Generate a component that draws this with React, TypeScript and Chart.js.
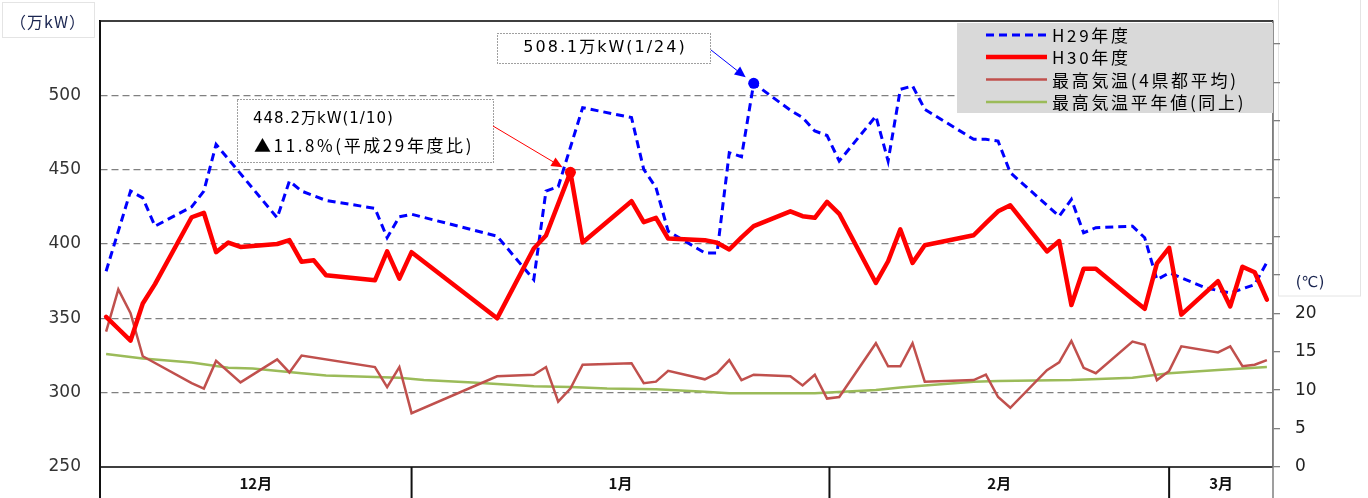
import React, { useEffect, useRef } from 'react';
import { Chart, registerables } from 'chart.js';

Chart.register(...registerables);

// Day index 0 = 12/3 (one point per calendar day on the axis)
const axisMinDay = -0.5;
const axisMaxDay = 95.5;

// H30年度 (万kW)
const h30Days = [0, 1, 2, 3, 4, 7, 8, 9, 10, 11, 14, 15, 16, 17, 18, 22, 23, 24, 25, 32, 35, 36, 37, 38, 39, 43, 44, 45, 46, 49, 50, 51, 52, 53, 56, 57, 58, 59, 60, 63, 64, 65, 66, 67, 71, 72, 73, 74, 77, 78, 79, 80, 81, 84, 85, 86, 87, 88, 91, 92, 93, 94, 95];
const h30Values = [351, 343, 335, 360, 373, 418, 421, 394.5, 401, 398, 400, 402.6, 388, 389, 379, 375.6, 395, 376.7, 394.5, 350, 397, 405.7, 427, 448.2, 401, 428.8, 414.7, 417.6, 403.7, 402.6, 400.8, 396.3, 404.4, 412, 422, 418.7, 417.6, 428.4, 420.3, 373.8, 388.4, 409.8, 387.3, 399.2, 405.9, 414, 422, 426, 395, 402, 359, 383.3, 383.3, 363, 356.4, 387, 397.4, 352.5, 375, 358, 384.7, 381, 362.6];

// H29年度 (万kW)
const h29Days = [0, 2, 3, 4, 7, 8, 9, 14, 15, 16, 18, 22, 23, 24, 25, 32, 35, 36, 37, 39, 43, 44, 45, 46, 49, 50, 51, 52, 53, 56, 57, 58, 59, 60, 63, 64, 65, 66, 67, 71, 72, 73, 74, 78, 79, 80, 81, 84, 85, 86, 87, 90, 92, 94, 95];
const h29Values = [381.7, 435.6, 431, 412, 425, 435.6, 467, 417.6, 442.3, 435.6, 429.3, 424, 404.2, 418.3, 420, 405.3, 376, 435.6, 438.5, 491.7, 485, 450.2, 438, 408.6, 394, 394, 461.4, 458.7, 508.1, 490, 485, 476, 473, 455.8, 486, 455.8, 504, 506.3, 490.6, 470.4, 470.4, 469.2, 448, 418.7, 430, 407.5, 411, 412, 404.2, 376, 380.6, 370.5, 367, 372.7, 387.7];

// 最高気温(4県都平均) (℃)
const tempDays = [0, 1, 2, 3, 7, 8, 9, 11, 14, 15, 16, 22, 23, 24, 25, 32, 35, 36, 37, 38, 39, 43, 44, 45, 46, 49, 50, 51, 52, 53, 56, 57, 58, 59, 60, 63, 64, 65, 66, 67, 71, 72, 73, 74, 77, 78, 79, 80, 81, 84, 85, 86, 87, 88, 91, 92, 93, 94, 95];
const tempValues = [17.6, 23.1, 20, 14.4, 10.9, 10.2, 13.8, 11, 14, 12.3, 14.5, 13, 10.4, 13, 7.0, 11.8, 12.0, 13, 8.5, 10.2, 13.3, 13.5, 10.9, 11.1, 12.5, 11.4, 12.2, 13.9, 11.3, 12.0, 11.8, 10.6, 12.0, 8.9, 9.1, 16.1, 13.1, 13.1, 16.1, 11.1, 11.3, 12.0, 9.1, 7.7, 12.6, 13.6, 16.4, 12.9, 12.2, 16.3, 15.9, 11.3, 12.5, 15.7, 14.9, 15.7, 13.1, 13.3, 13.9];

// 最高気温平年値(同上) (℃)
const normalDays = [0, 3, 7, 10, 12, 16, 18, 22, 24, 26, 30, 35, 38, 41, 45, 49, 51, 58, 63, 65, 67, 71, 73, 79, 84, 87, 91, 95];
const normalValues = [14.7, 14.1, 13.6, 12.9, 12.8, 12.2, 11.9, 11.7, 11.6, 11.3, 11.0, 10.5, 10.4, 10.2, 10.1, 9.8, 9.6, 9.6, 10.0, 10.35, 10.6, 11.1, 11.2, 11.3, 11.6, 12.2, 12.6, 13.0];

// Month table under the chart
const monthLabels = ['12月', '1月', '2月', '3月'];
const monthEdges = [-0.5, 25, 59.2, 87, 95.5];

// Axis ticks
const leftTicks = [250, 300, 350, 400, 450, 500];
const leftMax = 550;
const rightLabelMax = 20;

const seriesLabels = ['H29年度', 'H30年度', '最高気温(4県都平均)', '最高気温平年値(同上)'];

const FONT = '"DejaVu Sans", "Noto Sans CJK JP", sans-serif';
const CJK = '"Noto Sans CJK JP", "DejaVu Sans", sans-serif';

const W = 1368;
const H = 498;

function pts(days: number[], vals: number[]) {
  return days.map((d, i) => ({ x: d, y: vals[i] }));
}

function drawArrow(ctx: CanvasRenderingContext2D, x1: number, y1: number, x2: number, y2: number, color: string) {
  const head = 11;
  const half = 5;
  const ang = Math.atan2(y2 - y1, x2 - x1);
  const bx = x2 - head * Math.cos(ang);
  const by = y2 - head * Math.sin(ang);
  ctx.save();
  ctx.strokeStyle = color;
  ctx.fillStyle = color;
  ctx.lineWidth = 1;
  ctx.setLineDash([]);
  ctx.beginPath();
  ctx.moveTo(x1, y1);
  ctx.lineTo(bx, by);
  ctx.stroke();
  ctx.beginPath();
  ctx.moveTo(x2, y2);
  ctx.lineTo(bx + half * Math.sin(ang), by - half * Math.cos(ang));
  ctx.lineTo(bx - half * Math.sin(ang), by + half * Math.cos(ang));
  ctx.closePath();
  ctx.fill();
  ctx.restore();
}

function dottedBox(ctx: CanvasRenderingContext2D, x: number, y: number, w: number, h: number) {
  ctx.save();
  ctx.fillStyle = '#ffffff';
  ctx.fillRect(x, y, w, h);
  ctx.strokeStyle = '#404040';
  ctx.lineWidth = 1;
  ctx.setLineDash([1, 2]);
  ctx.strokeRect(x + 0.5, y + 0.5, w, h);
  ctx.restore();
}

const decorPlugin = {
  id: 'decor',
  beforeDraw(chart: any) {
    const ctx: CanvasRenderingContext2D = chart.ctx;
    ctx.save();
    ctx.fillStyle = '#ffffff';
    ctx.fillRect(0, 0, W, H);
    ctx.strokeStyle = '#e4e4e4';
    ctx.lineWidth = 1;
    ctx.strokeRect(2.5, 2.5, 92, 35);
    ctx.strokeRect(1278.5, -1, 82, 297);
    ctx.restore();
  },
  afterDatasetsDraw(chart: any) {
    const ctx: CanvasRenderingContext2D = chart.ctx;
    const a = chart.chartArea;
    const xs = chart.scales.x;
    const ys = chart.scales.y;
    ctx.save();

    // frame
    ctx.setLineDash([]);
    ctx.strokeStyle = '#000000';
    ctx.lineWidth = 1.5;
    ctx.beginPath();
    ctx.moveTo(a.left, a.top);
    ctx.lineTo(a.right, a.top);
    ctx.moveTo(a.left, a.bottom);
    ctx.lineTo(a.right, a.bottom);
    ctx.stroke();

    // month table
    ctx.lineWidth = 2;
    ctx.strokeStyle = '#111111';
    for (let i = 0; i < monthEdges.length - 1; i++) {
      const px = i === 0 ? a.left : xs.getPixelForValue(monthEdges[i]);
      ctx.beginPath();
      ctx.moveTo(px, i === 0 ? a.top : a.bottom);
      ctx.lineTo(px, H);
      ctx.stroke();
    }
    ctx.strokeStyle = '#7f7f7f';
    ctx.lineWidth = 1.5;
    ctx.beginPath();
    ctx.moveTo(a.right, a.top);
    ctx.lineTo(a.right, H);
    ctx.stroke();

    ctx.fillStyle = '#111111';
    ctx.font = 'bold 15px ' + CJK;
    ctx.textAlign = 'center';
    ctx.textBaseline = 'middle';
    for (let i = 0; i < monthLabels.length; i++) {
      const l = i === 0 ? a.left : xs.getPixelForValue(monthEdges[i]);
      const r = i === monthLabels.length - 1 ? a.right : xs.getPixelForValue(monthEdges[i + 1]);
      ctx.fillText(monthLabels[i], (l + r) / 2, a.bottom + 16);
    }

    // legend
    ctx.fillStyle = '#d9d9d9';
    ctx.fillRect(957, 23, a.right - 957, 90);
    const rows = [35, 57, 79.5, 102];
    const ds = chart.data.datasets;
    [0, 1, 2, 3].forEach((di, r) => {
      const d = ds[di];
      ctx.save();
      ctx.strokeStyle = d.borderColor;
      ctx.lineWidth = d.borderWidth;
      ctx.setLineDash(d.borderDash || []);
      ctx.lineCap = 'butt';
      ctx.beginPath();
      ctx.moveTo(986, rows[r]);
      ctx.lineTo(1047, rows[r]);
      ctx.stroke();
      ctx.restore();
      ctx.fillStyle = '#000000';
      ctx.font = '17px ' + CJK;
      (ctx as any).letterSpacing = '2.7px';
      ctx.textAlign = 'left';
      ctx.textBaseline = 'middle';
      ctx.fillText(d.label, 1052, rows[r] + 1);
      (ctx as any).letterSpacing = '0px';
    });

    // axis titles
    ctx.fillStyle = '#1a2550';
    ctx.font = '16px ' + CJK;
    (ctx as any).letterSpacing = '1px';
    ctx.textAlign = 'center';
    ctx.textBaseline = 'middle';
    ctx.fillText('（万kW）', 48, 22);
    (ctx as any).letterSpacing = '0px';
    ctx.font = '15px ' + FONT;
    ctx.fillText('(℃)', 1310, 283);

    // peak annotations
    const h29Peak = Math.max(...h29Values);
    const h29PeakDay = h29Days[h29Values.indexOf(h29Peak)];
    const h30Peak = Math.max(...h30Values);
    const h30PeakDay = h30Days[h30Values.indexOf(h30Peak)];

    const bx = xs.getPixelForValue(h29PeakDay);
    const by = ys.getPixelForValue(h29Peak);
    dottedBox(ctx, 497, 33, 213, 30);
    ctx.fillStyle = '#000000';
    ctx.font = '16px ' + FONT;
    (ctx as any).letterSpacing = '2px';
    ctx.textAlign = 'center';
    ctx.textBaseline = 'middle';
    ctx.fillText('508.1万kW(1/24)', 605, 48);
    drawArrow(ctx, 711, 50, bx - 8, by - 6, '#0000ff');

    const rx = xs.getPixelForValue(h30PeakDay);
    const ry = ys.getPixelForValue(h30Peak);
    dottedBox(ctx, 237, 99, 256, 63);
    ctx.fillStyle = '#000000';
    ctx.textAlign = 'left';
    ctx.font = '15px ' + FONT;
    (ctx as any).letterSpacing = '1px';
    ctx.fillText('448.2万kW(1/10)', 253, 119);
    ctx.font = '17px ' + CJK;
    (ctx as any).letterSpacing = '2.6px';
    ctx.fillText('▲11.8%(平成29年度比)', 254, 146);
    (ctx as any).letterSpacing = '0px';
    drawArrow(ctx, 493, 126, rx - 8, ry - 5, '#ff0000');

    ctx.restore();
  },
};

export default function App() {
  const ref = useRef<HTMLCanvasElement | null>(null);

  useEffect(() => {
    document.body.style.margin = '0';
    const canvas = ref.current;
    if (!canvas) return;
    const h29Peak = Math.max(...h29Values);
    const h30Peak = Math.max(...h30Values);

    const chart = new Chart(canvas, {
      type: 'line',
      data: {
        datasets: [
          {
            label: seriesLabels[0],
            data: pts(h29Days, h29Values),
            borderColor: '#0000ff',
            backgroundColor: '#0000ff',
            borderWidth: 3,
            borderDash: [8, 5],
            yAxisID: 'y',
            order: 1,
            pointRadius: (c: any) => (c.raw && c.raw.y === h29Peak ? 5.5 : 0),
            pointBorderWidth: 0,
          },
          {
            label: seriesLabels[1],
            data: pts(h30Days, h30Values),
            borderColor: '#ff0000',
            backgroundColor: '#ff0000',
            borderWidth: 4.5,
            borderJoinStyle: 'round',
            borderCapStyle: 'round',
            yAxisID: 'y',
            order: 0,
            pointRadius: (c: any) => (c.raw && c.raw.y === h30Peak ? 5.5 : 0),
            pointBorderWidth: 0,
          },
          {
            label: seriesLabels[2],
            data: pts(tempDays, tempValues),
            borderColor: '#c0504d',
            backgroundColor: '#c0504d',
            borderWidth: 2.5,
            yAxisID: 'y1',
            order: 2,
            pointRadius: 0,
          },
          {
            label: seriesLabels[3],
            data: pts(normalDays, normalValues),
            borderColor: '#9bbb59',
            backgroundColor: '#9bbb59',
            borderWidth: 2.5,
            yAxisID: 'y1',
            order: 3,
            pointRadius: 0,
          },
        ] as any,
      },
      options: {
        responsive: false,
        animation: false,
        devicePixelRatio: 1,
        layout: { padding: { top: 21, left: 0, right: 0, bottom: 0 } },
        plugins: {
          legend: { display: false },
          tooltip: { enabled: false },
        },
        elements: { line: { tension: 0 } },
        scales: {
          x: {
            type: 'linear',
            min: axisMinDay,
            max: axisMaxDay,
            ticks: { display: false },
            grid: { display: false },
            border: { display: false },
            afterFit: (s: any) => {
              s.height = 31;
              s.paddingLeft = 0;
              s.paddingRight = 0;
            },
          },
          y: {
            type: 'linear',
            position: 'left',
            min: leftTicks[0],
            max: leftMax,
            afterBuildTicks: (s: any) => {
              s.ticks = leftTicks.map((v) => ({ value: v }));
            },
            ticks: {
              font: { family: FONT, size: 17 },
              color: '#333333',
              padding: 19,
            },
            grid: {
              color: (c: any) => (c.tick && c.tick.value === leftTicks[0] ? 'rgba(0,0,0,0)' : '#808080'),
              lineWidth: 1.3,
              drawTicks: false,
            },
            border: { display: true, color: '#000000', width: 1.5, dash: [7, 4] },
            afterFit: (s: any) => {
              s.width = 100;
              s.paddingTop = 0;
              s.paddingBottom = 0;
            },
          },
          y1: {
            type: 'linear',
            position: 'right',
            min: 0,
            max: 58,
            afterBuildTicks: (s: any) => {
              const t = [];
              for (let v = 0; v <= 55; v += 5) t.push({ value: v });
              s.ticks = t;
            },
            ticks: {
              callback: (v: any) => (v <= rightLabelMax ? String(v) : ''),
              font: { family: FONT, size: 17 },
              color: '#222222',
              padding: 15,
            },
            grid: {
              drawOnChartArea: false,
              drawTicks: true,
              tickLength: 7,
              color: '#808080',
              lineWidth: 1.3,
            },
            border: { display: true, color: '#7f7f7f', width: 1.5 },
            afterFit: (s: any) => {
              s.width = 95;
              s.paddingTop = 0;
              s.paddingBottom = 0;
            },
          },
        },
      } as any,
      plugins: [decorPlugin],
    });

    return () => {
      chart.destroy();
    };
  }, []);

  return (
    <div style={{ width: W, height: H }}>
      <canvas ref={ref} width={W} height={H} style={{ display: 'block', width: W, height: H }} />
    </div>
  );
}
